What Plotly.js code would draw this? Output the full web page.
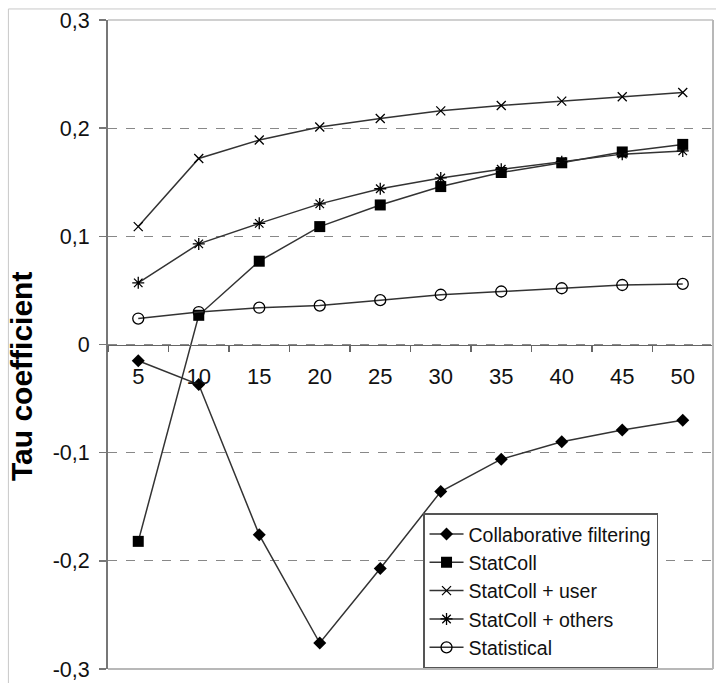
<!DOCTYPE html>
<html>
<head>
<meta charset="utf-8">
<script src="https://cdn.plot.ly/plotly-3.0.1.min.js"></script>
<style>html,body{margin:0;padding:0;background:#fff;}#chart{width:716px;height:683px;}</style>
</head>
<body>
<div id="chart"></div>
<script>
// ---- data ----
var categories = ["5","10","15","20","25","30","35","40","45","50"];
var collaborativeFiltering = [-0.015, -0.037, -0.176, -0.276, -0.207, -0.136, -0.106, -0.090, -0.079, -0.070];
var statColl = [-0.182, 0.027, 0.077, 0.109, 0.129, 0.146, 0.159, 0.168, 0.178, 0.185];
var statCollUser = [0.109, 0.172, 0.189, 0.201, 0.209, 0.216, 0.221, 0.225, 0.229, 0.233];
var statCollOthers = [0.057, 0.093, 0.112, 0.130, 0.144, 0.154, 0.162, 0.169, 0.176, 0.179];
var statistical = [0.024, 0.030, 0.034, 0.036, 0.041, 0.046, 0.049, 0.052, 0.055, 0.056];
var yTickVals = [-0.3, -0.2, -0.1, 0, 0.1, 0.2, 0.3];
var yTickText = ["-0,3", "-0,2", "-0,1", "0", "0,1", "0,2", "0,3"];
var seriesNames = ["Collaborative filtering", "StatColl", "StatColl + user", "StatColl + others", "Statistical"];
var yTitle = "Tau coefficient";

// ---- styling ----
var lineColor = "#333";
var font = "Liberation Sans, Arial, sans-serif";

function tr(name, y, symbol, size, lw) {
  return {
    type: "scatter", mode: "lines+markers", name: name,
    x: categories, y: y,
    line: {color: lineColor, width: 1.5},
    marker: {symbol: symbol, size: size, color: "#000", line: {color: "#111", width: lw}}
  };
}

var data = [
  tr(seriesNames[0], collaborativeFiltering, "diamond", 10, 0),
  tr(seriesNames[1], statColl, "square", 11, 0),
  tr(seriesNames[2], statCollUser, "x-thin-open", 9, 1.3),
  tr(seriesNames[3], statCollOthers, "asterisk-open", 10, 1.3),
  tr(seriesNames[4], statistical, "circle-open", 11, 1.3)
];

var layout = {
  width: 716, height: 683,
  margin: {l: 108, r: 3, t: 20, b: 14, pad: 0},
  paper_bgcolor: "#fff", plot_bgcolor: "#fff",
  font: {family: font, color: "#111", size: 22},
  showlegend: true,
  legend: {
    x: 0.5207, y: 0.24, xanchor: "left", yanchor: "top",
    bgcolor: "#fff", bordercolor: "#555", borderwidth: 1.5,
    font: {family: font, size: 19.5, color: "#111"},
    itemwidth: 34, tracegroupgap: 0
  },
  xaxis: {
    type: "category",
    anchor: "free", position: 0.5,
    range: [-0.5, 9.5],
    showline: true, linecolor: "#666", linewidth: 1.5,
    ticks: "outside", ticklen: 6, tickcolor: "#666", tickwidth: 1.5,
    tickson: "boundaries",
    showgrid: false, zeroline: false,
    tickfont: {family: font, size: 22, color: "#111"},
    ticklabelstandoff: 12,
    ticklabeloverflow: "allow",
    fixedrange: true
  },
  yaxis: {
    range: [-0.3, 0.3],
    tickvals: yTickVals, ticktext: yTickText,
    showline: true, linecolor: "#777", linewidth: 2,
    ticks: "outside", ticklen: 7, tickcolor: "#777", tickwidth: 1.5,
    showgrid: true, gridcolor: "#888", gridwidth: 1, griddash: "dash",
    zeroline: false,
    tickfont: {family: font, size: 21.5, color: "#111"},
    ticklabelstandoff: 5,
    ticklabeloverflow: "allow",
    fixedrange: true
  },
  annotations: [{
    text: "<b>" + yTitle + "</b>",
    xref: "paper", yref: "paper", x: -0.142, y: 0.45,
    xanchor: "center", yanchor: "middle", textangle: -90, showarrow: false,
    font: {family: font, size: 30, color: "#000"}
  }],
  shapes: [
    // outer chart frame
    {type: "rect", xref: "paper", yref: "paper", x0: -0.1646, x1: 1.3, y0: -0.3, y1: 1.017,
     line: {color: "#c8c8c8", width: 1}, layer: "below"},
    // plot area border (top, right, bottom)
    {type: "line", xref: "paper", yref: "paper", x0: 0, x1: 1, y0: 1, y1: 1, line: {color: "#c0c0c0", width: 1.5}, layer: "above"},
    {type: "line", xref: "paper", yref: "paper", x0: 1, x1: 1, y0: 0, y1: 1, line: {color: "#b8b8b8", width: 2}, layer: "above"},
    {type: "line", xref: "paper", yref: "paper", x0: 0, x1: 1, y0: 0, y1: 0, line: {color: "#b8b8b8", width: 2}, layer: "above"}
  ]
};

Plotly.newPlot("chart", data, layout, {displayModeBar: false, staticPlot: true});
</script>
</body>
</html>
